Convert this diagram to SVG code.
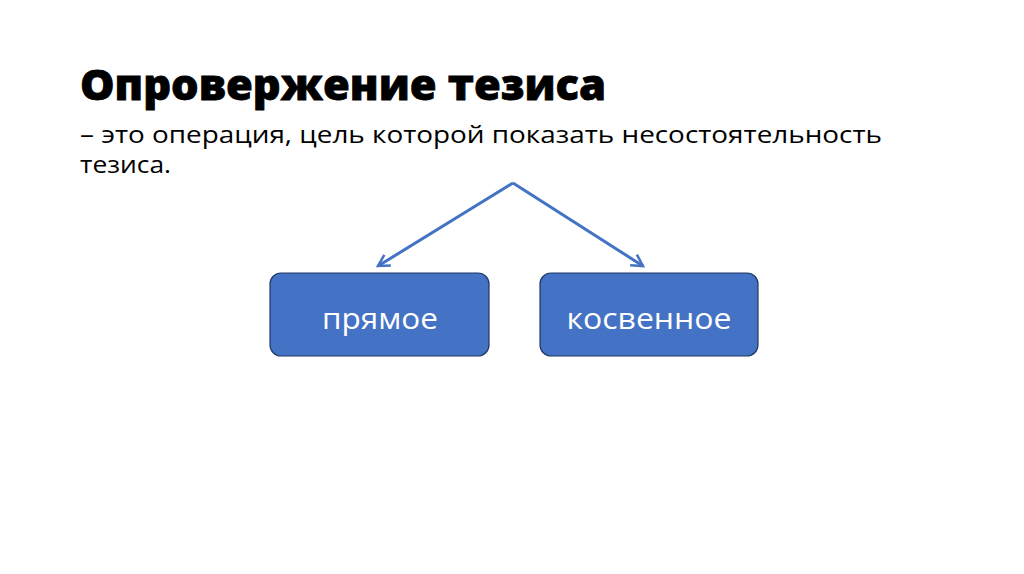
<svg xmlns="http://www.w3.org/2000/svg" width="1024" height="574" viewBox="0 0 1024 574">
<style>
.title{font-family:"Open Sans","Noto Sans",sans-serif;font-weight:800;font-size:43px;fill:#000;stroke:#000;stroke-width:0.8}
.body{font-family:"Open Sans","Noto Sans",sans-serif;font-size:24.5px;fill:#000}
.box{fill:#4472C4;stroke:#1F3864;stroke-width:1.2}
.lbl{font-family:"Open Sans","Noto Sans",sans-serif;font-size:30px;fill:#fff;text-anchor:middle}
.conn{fill:none;stroke:#4472C4;stroke-width:3}
</style>
<defs>
<marker id="arr" viewBox="0 0 12 12" refX="10" refY="6" markerWidth="5" markerHeight="5" orient="auto" markerUnits="strokeWidth">
<path d="M1,1 L10,6 L1,11" fill="none" stroke="#4472C4" stroke-width="2"/>
</marker>
</defs>
<rect width="1024" height="574" fill="#fff"/>
<text class="title" x="80" y="100" textLength="526" lengthAdjust="spacingAndGlyphs">Опровержение тезиса</text>
<text class="body" x="80" y="143" textLength="802" lengthAdjust="spacingAndGlyphs">– это операция, цель которой показать несостоятельность</text>
<text class="body" x="80" y="173" textLength="91" lengthAdjust="spacingAndGlyphs">тезиса.</text>
<g id="connectors">
<path class="conn" d="M513,183 L378,266" marker-end="url(#arr)"/>
<path class="conn" d="M513,183 L643,266" marker-end="url(#arr)"/>
</g>
<g id="node-direct">
<rect class="box" x="270" y="273" width="219" height="83" rx="11"/>
<text class="lbl" x="380" y="329" textLength="116" lengthAdjust="spacingAndGlyphs">прямое</text>
</g>
<g id="node-indirect">
<rect class="box" x="540" y="273" width="218" height="83" rx="11"/>
<text class="lbl" x="649" y="329" textLength="165" lengthAdjust="spacingAndGlyphs">косвенное</text>
</g>
</svg>
